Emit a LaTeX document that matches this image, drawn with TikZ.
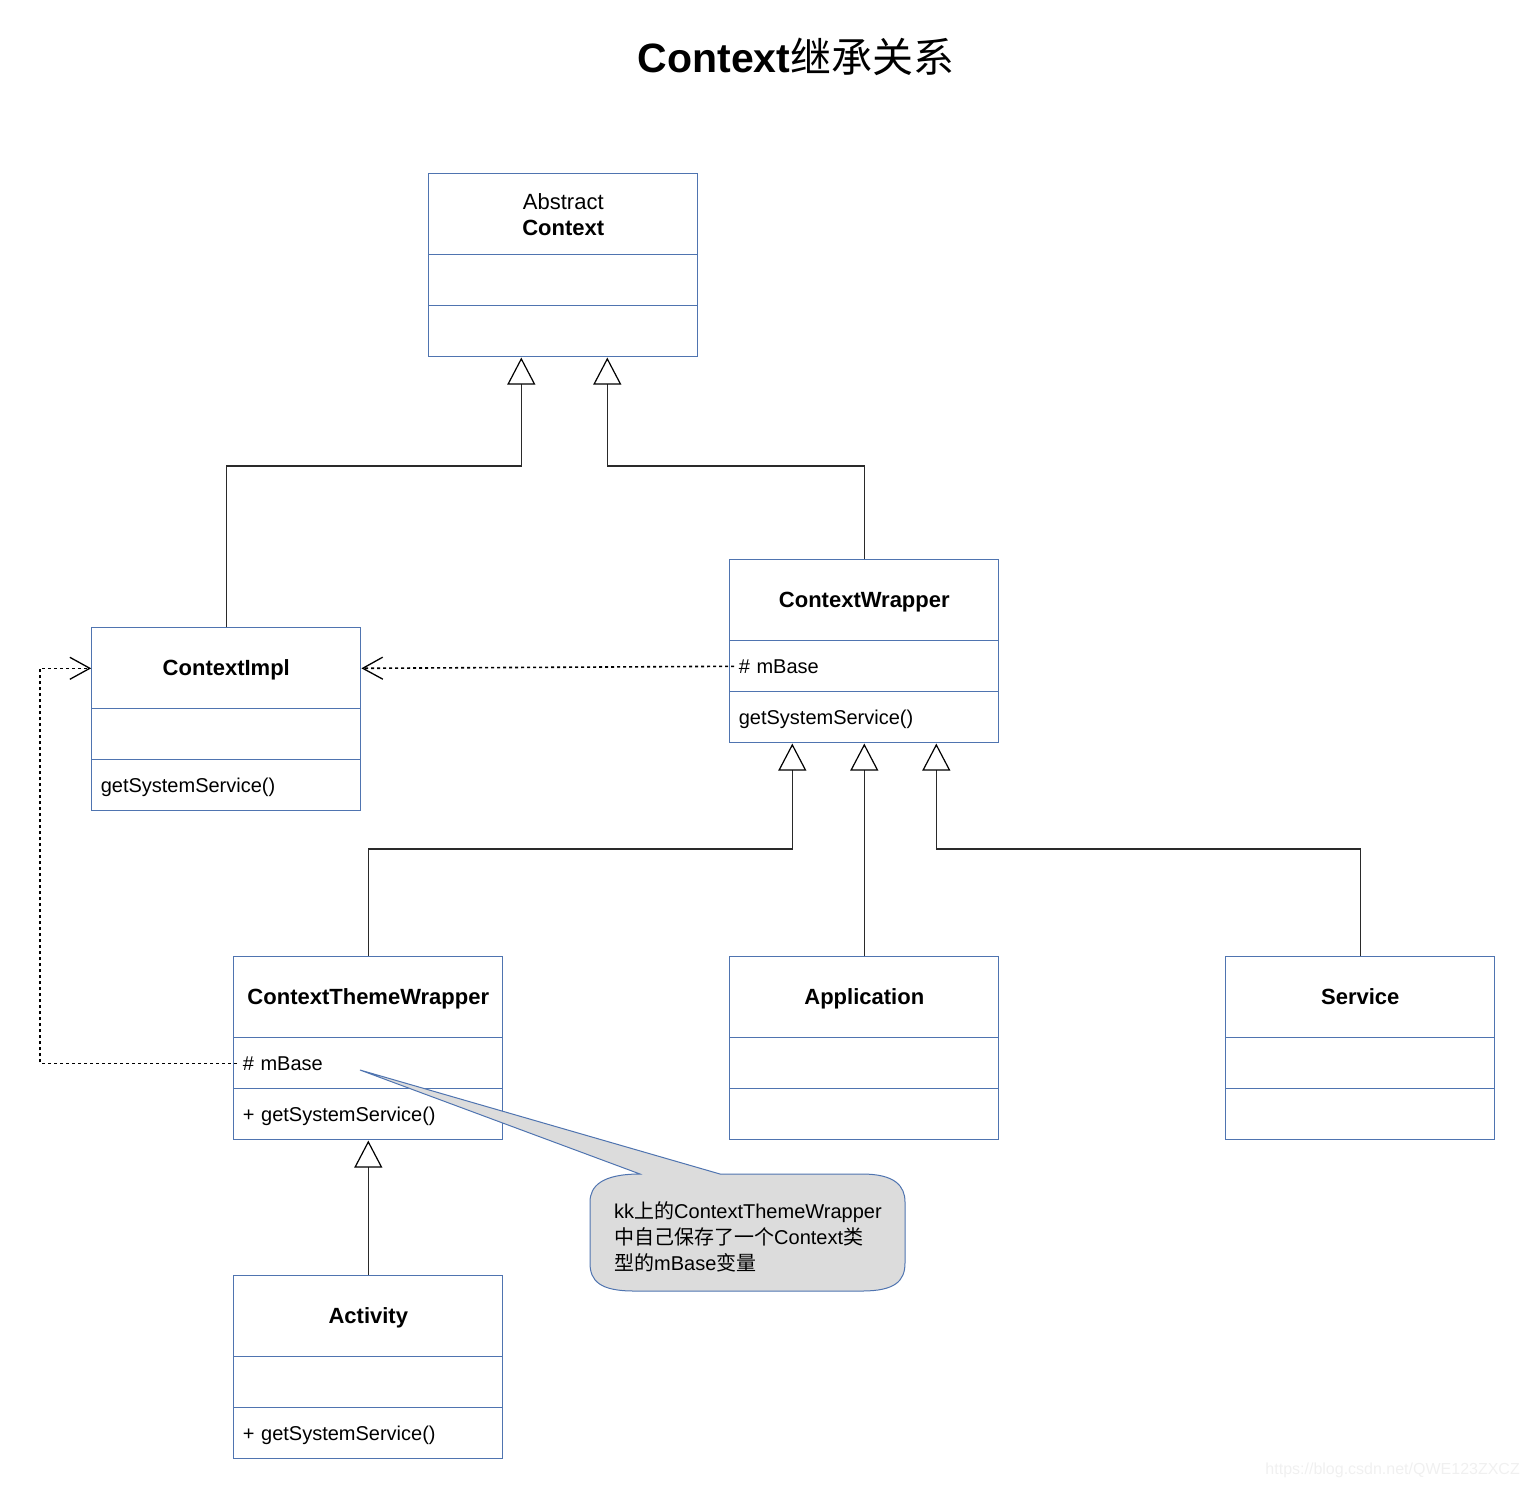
\documentclass[tikz,border=0pt]{standalone}
\usepackage{fontspec}
\setmainfont{Liberation Sans}
\newfontfamily\cjk{Noto Sans CJK SC}
\usepackage{tikz}
\usetikzlibrary{arrows.meta, matrix}
\definecolor{umlblue}{HTML}{4F74B0}
\definecolor{notegray}{HTML}{DCDCDC}
\definecolor{linegray}{HTML}{2A2A2A}

\tikzset{
  umlclass/.style={matrix of nodes, nodes in empty cells, row sep=-1.2pt, inner sep=0pt,
    nodes={draw=umlblue, line width=1.2pt, anchor=center, inner xsep=9pt, inner ysep=0pt,
      text width=251pt, minimum width=269pt, minimum height=51pt, align=left,
      text height=18pt, text depth=4pt, font=\fontsize{20}{24}\selectfont}},
  hdrtwo/.style={minimum height=81pt, align=center, text height=, text depth=,
    font=\fontsize{22}{26}\selectfont\bfseries},
  hdr/.style={hdrtwo, text height=19.5pt, text depth=4.5pt},
  inherit/.style={draw=linegray, line width=1.2pt,
    -{Triangle[open, length=27pt, width=28pt, line width=1.2pt, color=black, fill=white]}},
  depend/.style={draw=black, line width=1.6pt, dash pattern=on 3pt off 3pt,
    -{Straight Barb[length=20pt, width=22pt, line width=1.3pt]}},
}

\begin{document}
\begin{tikzpicture}[x=1pt, y=-1pt]
  \useasboundingbox (0,0) rectangle (1530,1485);

  % title
  \node (title) at (796,57) {\fontsize{41}{48}\selectfont\bfseries Context{\mdseries\cjk 继承关系}};

  % classes
  \matrix (ac) [umlclass, anchor=north west] at (428,173) {
    |[hdrtwo]| {{\mdseries Abstract}\\Context} \\
    \\
    \\
  };
  \matrix (ci) [umlclass, anchor=north west] at (91,627) {
    |[hdr]| ContextImpl \\
    \\
    getSystemService() \\
  };
  \matrix (cw) [umlclass, anchor=north west] at (729,559) {
    |[hdr]| ContextWrapper \\
    \# mBase \\
    getSystemService() \\
  };
  \matrix (ctw) [umlclass, anchor=north west] at (233,956) {
    |[hdr]| ContextThemeWrapper \\
    \# mBase \\
    + getSystemService() \\
  };
  \matrix (app) [umlclass, anchor=north west] at (729,956) {
    |[hdr]| Application \\
    \\
    \\
  };
  \matrix (svc) [umlclass, anchor=north west] at (1225,956) {
    |[hdr]| Service \\
    \\
    \\
  };
  \matrix (act) [umlclass, anchor=north west] at (233,1275) {
    |[hdr]| Activity \\
    \\
    + getSystemService() \\
  };

  % generalization
  \draw[inherit] (ci.north) -- (ci.north |- 0,466) -| ([xshift=-42pt]ac.south);
  \draw[inherit] (cw.north) -- (cw.north |- 0,466) -| ([xshift=44pt]ac.south);
  \draw[inherit] (ctw.north) -- (ctw.north |- 0,849) -| ([xshift=-72pt]cw.south);
  \draw[inherit] (app.north) -- (cw.south);
  \draw[inherit] (svc.north) -- (svc.north |- 0,849) -| ([xshift=72pt]cw.south);
  \draw[inherit] (act.north) -- (ctw.south);

  % mBase references
  \draw[depend] ([xshift=5pt]cw-2-1.west) -- (ci-1-1.east);
  \draw[depend] ([xshift=4pt]ctw-2-1.west) -- ++(-197,0) |- (ci-1-1.west);

  % note
  \coordinate (tip) at (360,1070);
  \draw[draw=umlblue, line width=1pt, fill=notegray]
    (640,1174) -- (tip) -- (720,1174) -- (862,1174)
    .. controls (895,1174) and (905,1186) .. (905,1202) -- (905,1263)
    .. controls (905,1281) and (895,1291) .. (862,1291) -- (634,1291)
    .. controls (600,1291) and (590,1281) .. (590,1263) -- (590,1202)
    .. controls (590,1186) and (602,1174) .. (640,1174) -- cycle;
  \node (note) [anchor=west, inner sep=0pt, align=left, font=\fontsize{20}{26}\selectfont] at (614,1237)
    {kk{\cjk 上的}ContextThemeWrapper\\{\cjk 中自己保存了一个}Context{\cjk 类}\\{\cjk 型的}mBase{\cjk 变量}};

  \node (wm) [anchor=base east, inner sep=0pt, text=gray!12, font=\fontsize{16}{18}\selectfont] at (1520,1474)
    {https://blog.csdn.net/QWE123ZXCZ};
\end{tikzpicture}
\end{document}
